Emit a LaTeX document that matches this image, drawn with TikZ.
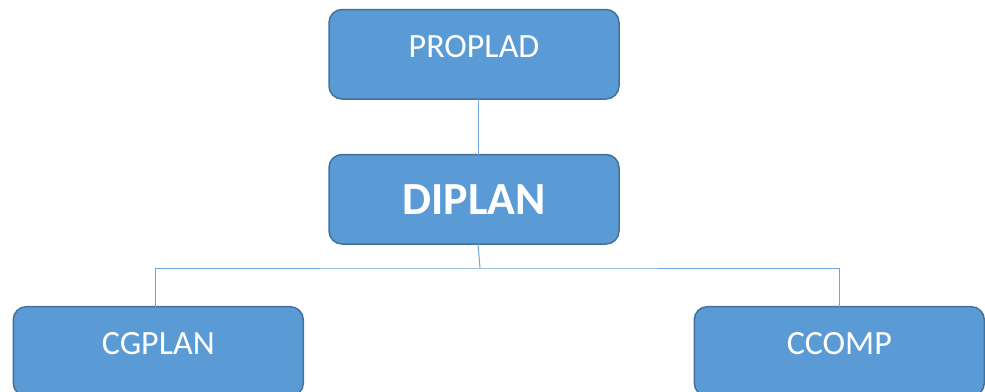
\documentclass[tikz,border=0pt]{standalone}
\usepackage{fontspec}
\setmainfont{Carlito}
\usetikzlibrary{positioning}
\definecolor{boxfill}{HTML}{5B9BD5}
\definecolor{boxline}{HTML}{41719C}
\definecolor{linkline}{HTML}{6FA5DA}
\tikzset{%
	unit/.style     = {draw=boxline, fill=boxfill, line width=1.5pt, rounded corners=13pt, minimum width=290pt, minimum height=89.5pt, inner sep=0pt, outer sep=0pt, text=white, align=center, font=\fontsize{34}{40}\selectfont, text height=24pt, text depth=18pt},
	mainunit/.style = {unit, font=\fontsize{46}{54}\selectfont\bfseries, text height=31pt, text depth=0pt},
	link/.style     = {draw=linkline, line width=1pt},
}

\begin{document}
\begin{tikzpicture}
	\useasboundingbox (0,0) rectangle (985pt,-391pt);
	\node[unit] (proplad) at (474pt,-54.25pt) {PROPLAD};
	\node[mainunit,below=55.5pt of proplad] (diplan) {DIPLAN};
	\node[unit,below left=62.7pt and 25.7pt of diplan] (cgplan) {CGPLAN};
	\node[unit,below right=62.7pt and 75.3pt of diplan] (ccomp) {CCOMP};
	\coordinate (bus) at (480pt,-268pt);
	\draw[link] ([xshift=4pt]proplad.south) -- ([xshift=4pt]diplan.north);
	\draw[link] ([xshift=4pt]diplan.south) -- (bus);
	\draw[link] ([xshift=-3pt]cgplan.north) |- (bus) -| (ccomp.north);
\end{tikzpicture}
\end{document}
